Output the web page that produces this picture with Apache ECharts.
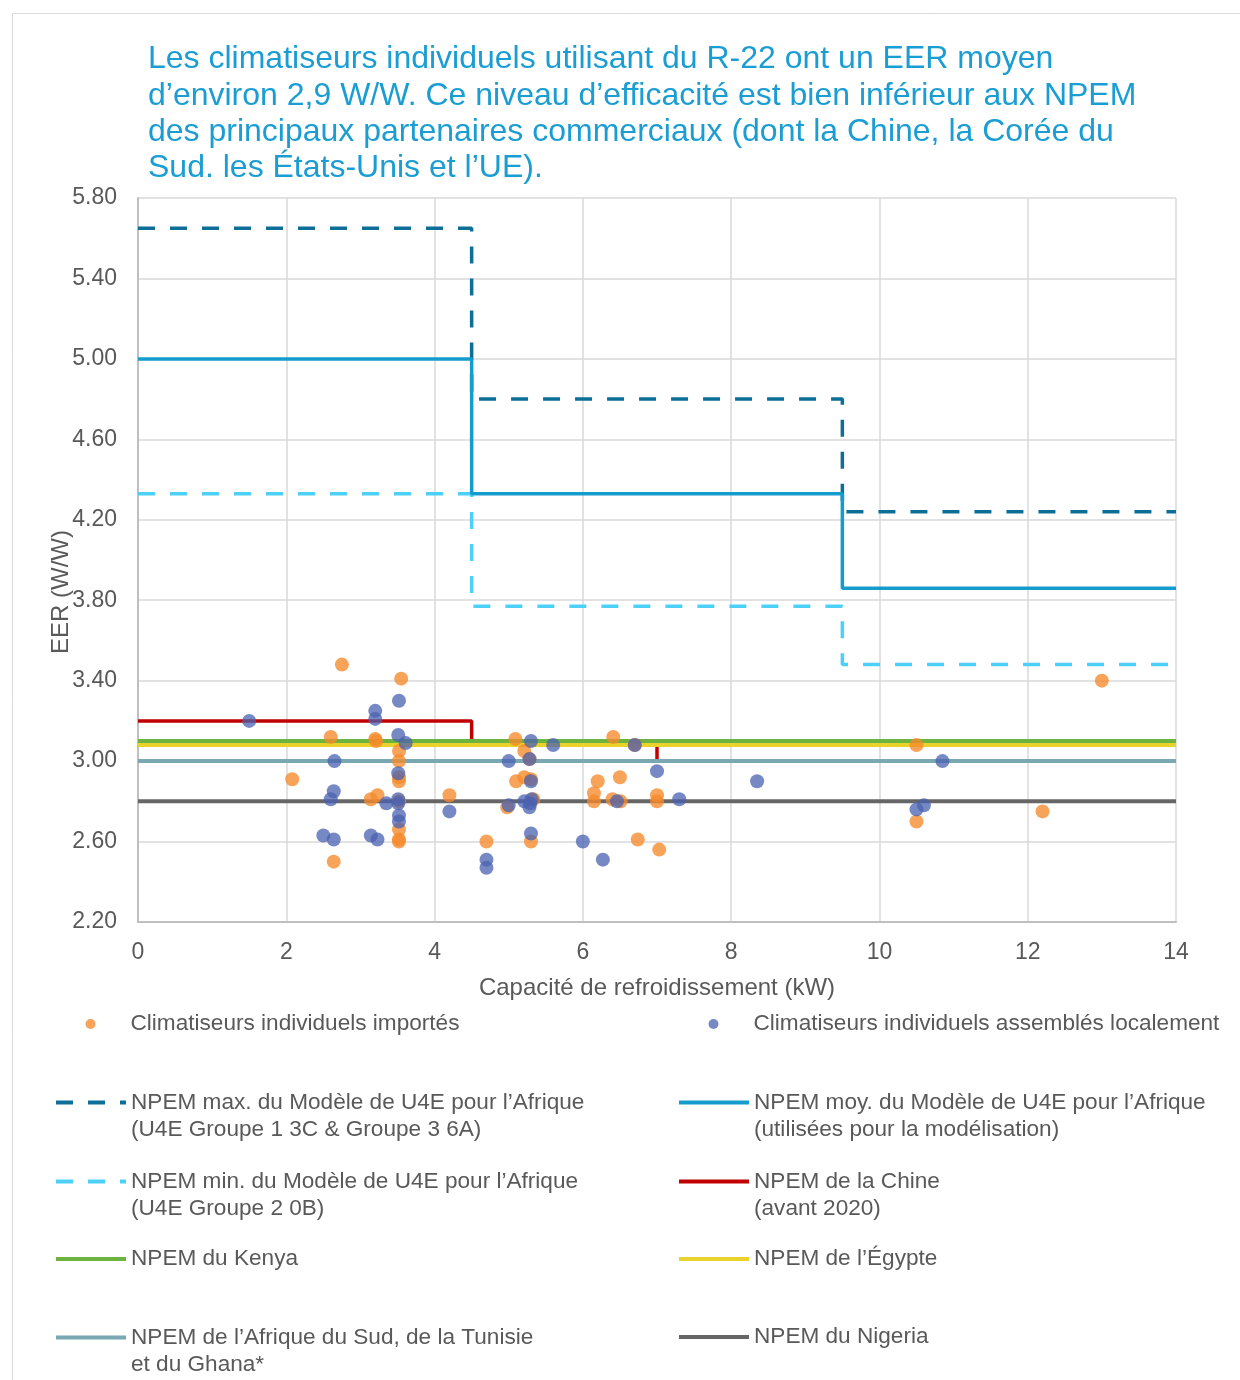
<!DOCTYPE html>
<html>
<head>
<meta charset="utf-8">
<script src="https://cdn.jsdelivr.net/npm/echarts@6/dist/echarts.min.js"></script>
<style>
  html, body { margin: 0; padding: 0; background: #ffffff; }
  #chart { width: 1240px; height: 1380px; }
</style>
</head>
<body>
<div id="chart"></div>
<script>
// Cooling capacity (kW) and EER (W/W) of imported room air conditioners
const importedKW = [2.75, 3.55, 2.60, 3.20, 3.21, 3.52, 3.52, 2.08, 3.52, 3.52, 3.23, 3.14, 3.52, 3.52, 3.52, 3.52, 2.64,
  4.20, 4.70, 5.09, 5.21, 5.10, 5.21, 5.30, 4.98, 5.33, 5.30, 5.28,
  6.41, 6.20, 6.50, 6.15, 6.15, 6.40, 6.51, 6.70, 7.00, 7.00, 6.74, 7.03,
  13.00, 10.50, 10.50, 12.20];
const importedEER = [3.48, 3.41, 3.12, 3.11, 3.10, 3.05, 3.00, 2.91, 2.92, 2.90, 2.83, 2.81, 2.80, 2.66, 2.61, 2.60, 2.50,
  2.83, 2.60, 3.11, 3.05, 2.90, 2.92, 2.91, 2.77, 2.81, 2.60, 3.01,
  3.12, 2.90, 2.92, 2.84, 2.80, 2.81, 2.80, 3.08, 2.83, 2.80, 2.61, 2.56,
  3.40, 3.08, 2.70, 2.75];

// Locally assembled room air conditioners
const localKW = [1.50, 3.20, 3.20, 3.52, 3.51, 3.61, 2.65, 3.51, 2.64, 2.60, 3.35, 3.51, 3.51, 3.52, 3.52, 2.50, 2.64, 3.14, 3.23,
  4.20, 4.70, 4.70, 5.30, 5.60, 5.00, 5.28, 5.30, 5.00, 5.21, 5.29, 5.31, 5.28, 5.30, 6.00, 6.27, 6.46, 6.70, 7.00, 7.30, 8.35,
  10.85, 10.60, 10.50];
const localEER = [3.20, 3.25, 3.21, 3.30, 3.13, 3.09, 3.00, 2.94, 2.85, 2.81, 2.79, 2.81, 2.79, 2.73, 2.70, 2.63, 2.61, 2.63, 2.61,
  2.75, 2.51, 2.47, 3.10, 3.08, 3.00, 3.01, 2.90, 2.78, 2.80, 2.79, 2.81, 2.77, 2.64, 2.60, 2.51, 2.80, 3.08, 2.95, 2.81, 2.90,
  3.00, 2.78, 2.76];

// MEPS thresholds by capacity band
const u4eBreaks = [0, 4.5, 9.5, 14];
const u4eMax = [5.65, 4.80, 4.24];
const u4eMean = [5.00, 4.33, 3.86];
const u4eMin = [4.33, 3.77, 3.48];
const chinaBreaks = [0, 4.5, 7, 14];
const chinaMeps = [3.20, 3.10, 3.00];
const fullBreaks = [0, 14];
const kenyaMeps = [3.10];
const egyptMeps = [3.08];
const southAfricaMeps = [3.00];
const nigeriaMeps = [2.80];

const xTicks = { min: 0, max: 14, interval: 2 };
const yTicks = { min: 2.2, max: 5.8, interval: 0.4 };

const titleText = 'Les climatiseurs individuels utilisant du R-22 ont un EER moyen\n' +
  'd\u2019environ 2,9 W/W. Ce niveau d\u2019efficacité est bien inférieur aux NPEM\n' +
  'des principaux partenaires commerciaux (dont la Chine, la Corée du\n' +
  'Sud. les États-Unis et l\u2019UE).';

const names = {
  imported: 'Climatiseurs individuels importés',
  local: 'Climatiseurs individuels assemblés localement',
  max: 'NPEM max. du Modèle de U4E pour l\u2019Afrique',
  mean: 'NPEM moy. du Modèle de U4E pour l\u2019Afrique',
  min: 'NPEM min. du Modèle de U4E pour l\u2019Afrique',
  china: 'NPEM de la Chine',
  kenya: 'NPEM du Kenya',
  egypt: 'NPEM de l\u2019Égypte',
  sa: 'NPEM de l\u2019Afrique du Sud, de la Tunisie',
  nigeria: 'NPEM du Nigeria'
};
const secondLines = {};
secondLines[names.max] = '(U4E Groupe 1 3C & Groupe 3 6A)';
secondLines[names.mean] = '(utilisées pour la modélisation)';
secondLines[names.min] = '(U4E Groupe 2 0B)';
secondLines[names.china] = '(avant 2020)';
secondLines[names.sa] = 'et du Ghana*';

function zip(xs, ys) { return xs.map((x, i) => [x, ys[i]]); }
function stepData(breaks, vals) {
  const d = vals.map((v, i) => [breaks[i], v]);
  d.push([breaks[breaks.length - 1], vals[vals.length - 1]]);
  return d;
}

const FONT = '"Liberation Sans", Arial, sans-serif';
const GREY = '#595959';

function stepSeries(name, breaks, vals, color, type, width) {
  return {
    name: name, type: 'line', step: 'end', data: stepData(breaks, vals),
    symbol: 'none', silent: true, z: 2,
    lineStyle: { color: color, width: width || 3.5, type: type || 'solid', cap: 'butt' },
    itemStyle: { color: color }
  };
}

const DASH = [17, 15];

const series = [
  stepSeries(names.max, u4eBreaks, u4eMax, '#0d6f97', DASH),
  stepSeries(names.min, u4eBreaks, u4eMin, '#4dd0f8', DASH),
  stepSeries(names.mean, u4eBreaks, u4eMean, '#149ccd', 'solid'),
  stepSeries(names.china, chinaBreaks, chinaMeps, '#c00000', 'solid'),
  stepSeries(names.kenya, fullBreaks, kenyaMeps, '#6db33f', 'solid', 4),
  stepSeries(names.egypt, fullBreaks, egyptMeps, '#e9d22a', 'solid', 4),
  stepSeries(names.sa, fullBreaks, southAfricaMeps, '#79a8b2', 'solid', 4),
  stepSeries(names.nigeria, fullBreaks, nigeriaMeps, '#666666', 'solid', 4),
  {
    name: names.imported, type: 'scatter', data: zip(importedKW, importedEER),
    symbol: 'circle', symbolSize: 14, z: 3,
    itemStyle: { color: '#f58a2c', opacity: 0.78 }
  },
  {
    name: names.local, type: 'scatter', data: zip(localKW, localEER),
    symbol: 'circle', symbolSize: 14, z: 4,
    itemStyle: { color: '#4a62b0', opacity: 0.75 }
  }
];

// Legend layout: two columns, one legend component per entry
const legendRows = [
  [names.imported, names.local, 1024],
  [names.max, names.mean, 1102],
  [names.min, names.china, 1181],
  [names.kenya, names.egypt, 1259],
  [names.sa, names.nigeria, 1337]
];
const LINE_H = 27;
const legends = [];
legendRows.forEach(function (row) {
  [[row[0], 54], [row[1], 677]].forEach(function (entry) {
    const name = entry[0];
    const twoLine = !!secondLines[name];
    const isScatter = name === names.imported || name === names.local;
    const lg = {
      data: [name],
      left: isScatter ? entry[1] + 31.5 : entry[1],
      top: twoLine ? row[2] - LINE_H * 1.5 + 0.5 : row[2] - LINE_H / 2,
      padding: 0,
      itemWidth: 70,
      itemHeight: isScatter ? 10 : 14,
      selectedMode: false,
      formatter: function (n) { return secondLines[n] ? '\n' + n + '\n' + secondLines[n] : n; },
      textStyle: { fontSize: 22.6, color: GREY, fontFamily: FONT, lineHeight: LINE_H }
    };
    if (!isScatter) {
      lg.itemStyle = { opacity: 0 };
      lg.lineStyle = { width: 4 };
    }
    legends.push(lg);
  });
});

const chart = echarts.init(document.getElementById('chart'), null, { renderer: 'canvas' });
chart.setOption({
  animation: false,
  backgroundColor: '#ffffff',
  title: {
    text: titleText, left: 148, top: 41.5, padding: 0,
    textStyle: { fontSize: 32, lineHeight: 36.3, fontWeight: 'normal', color: '#1a9dd3', fontFamily: FONT }
  },
  graphic: [{
    type: 'rect', z: -10, silent: true,
    shape: { x: 12.5, y: 13.5, width: 1400, height: 1500 },
    style: { fill: 'none', stroke: '#d9d9d9', lineWidth: 1 }
  }],
  legend: legends,
  grid: { left: 138, right: 64, top: 198, bottom: 458, containLabel: false },
  xAxis: {
    type: 'value', min: xTicks.min, max: xTicks.max, interval: xTicks.interval,
    name: 'Capacité de refroidissement (kW)', nameLocation: 'middle', nameGap: 54,
    nameTextStyle: { fontSize: 24, color: GREY, fontFamily: FONT },
    axisLine: { show: true, lineStyle: { color: '#bfbfbf', width: 2 } },
    axisTick: { show: false },
    axisLabel: { fontSize: 23, color: GREY, fontFamily: FONT, margin: 19.5 },
    splitLine: { show: true, lineStyle: { color: '#d9d9d9', width: 1.5 } }
  },
  yAxis: {
    type: 'value', min: yTicks.min, max: yTicks.max, interval: yTicks.interval,
    name: 'EER (W/W)', nameLocation: 'middle', nameGap: 65, nameRotate: 90,
    nameMoveOverlap: false,
    nameTextStyle: { fontSize: 24, color: GREY, fontFamily: FONT, padding: [0, 64, 0, 0] },
    axisLine: { show: true, lineStyle: { color: '#bfbfbf', width: 2 } },
    axisTick: { show: false },
    axisLabel: { fontSize: 23, color: GREY, fontFamily: FONT, margin: 21,
      formatter: function (v) { return v.toFixed(2); } },
    splitLine: { show: true, lineStyle: { color: '#d9d9d9', width: 1.5 } }
  },
  series: series
});
</script>
</body>
</html>
